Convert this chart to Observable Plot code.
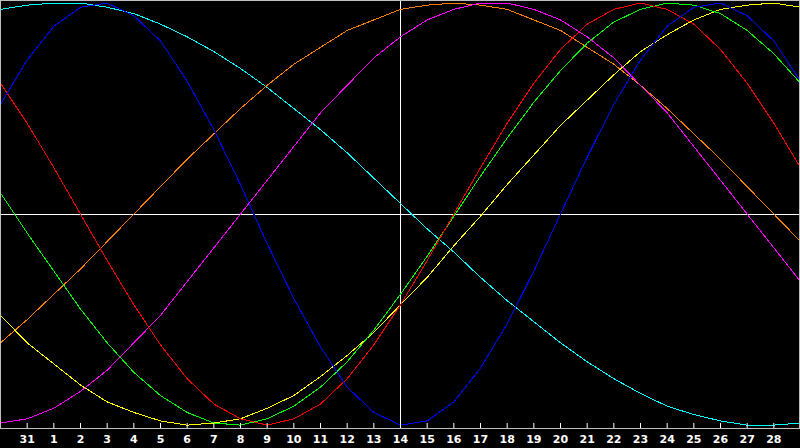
<!DOCTYPE html>
<html><head><meta charset="utf-8">
<script src="https://cdn.jsdelivr.net/npm/d3@7"></script>
<script src="https://cdn.jsdelivr.net/npm/@observablehq/plot@0.6"></script>
<style>html,body{margin:0;padding:0;background:#000;overflow:hidden}</style>
</head><body><div id="chart"></div>
<script>
// Day labels under the ticks (index 1..29); index 0 = Jan 30, index 30 = Mar 1
const tickLabels = ["31","1","2","3","4","5","6","7","8","9","10","11","12","13","14","15","16","17","18","19","20","21","22","23","24","25","26","27","28"];
const todayIndex = 15; // day 14

// Cycle values (percent) read for each day, index 0..30
const physical     = [52,73,89,98,100,94,82,63,40,14,-14,-40,-63,-82,-94,-100,-98,-89,-73,-52,-27,0,27,52,73,89,98,100,94,82,63];
const emotional    = [62,43,22,0,-22,-43,-62,-78,-90,-97,-100,-97,-90,-78,-62,-43,-22,0,22,43,62,78,90,97,100,97,90,78,62,43,22];
const intellectual = [10,-9,-27,-45,-61,-75,-86,-94,-99,-100,-97,-91,-82,-70,-55,-38,-20,-1,18,36,53,68,81,91,97,100,99,95,87,76,62];
const aesthetic    = [-48,-61,-71,-81,-89,-94,-98,-100,-99,-97,-92,-86,-77,-67,-56,-43,-30,-15,-1,14,28,42,54,66,77,85,92,97,99,100,98];
const awareness    = [-61,-50,-38,-26,-13,0,13,26,38,50,61,71,79,87,92,97,99,100,99,97,92,87,79,71,61,50,38,26,13,0,-13];
const intuitive    = [-99,-97,-92,-84,-74,-61,-48,-32,-16,0,16,32,48,61,74,84,92,97,100,100,97,92,84,74,61,48,32,16,0,-16,-32];
const spiritual    = [97,99,100,100,98,95,90,84,77,69,60,50,40,29,17,5,-7,-18,-30,-41,-51,-61,-70,-78,-85,-91,-95,-98,-100,-100,-99];

const seriesNames  = ["spiritual","awareness","intuitive","aesthetic","intellectual","emotional","physical"];
const seriesValues = [spiritual, awareness, intuitive, aesthetic, intellectual, emotional, physical];
const seriesColors = ["#00ffff","#ff8000","#ff00ff","#ffff00","#00ff00","#ff0000","#0000ff"];

const rows = seriesNames.flatMap((name, s) => seriesValues[s].map((v, i) => ({name, i, v})));
const tickIndex = tickLabels.map((_, k) => k + 1);

const chart = Plot.plot({
  width: 800, height: 448,
  marginTop: 0, marginRight: 0, marginBottom: 20, marginLeft: 0,
  style: {background: "#000", color: "#fff", fontFamily: "'DejaVu Sans', sans-serif", fontSize: "11px", fontWeight: "bold"},
  x: {domain: [0, 30], axis: null, label: null},
  y: {domain: [-101.6, 101.2], axis: null, label: null},
  color: {domain: seriesNames, range: seriesColors},
  marks: [
    Plot.ruleX([todayIndex], {x: d => d, stroke: "#fff", shapeRendering: "crispEdges"}),
    Plot.ruleY([0], {y: d => d, stroke: "#fff", dy: 0.6, shapeRendering: "crispEdges"}),
    Plot.line(rows, {x: "i", y: "v", z: "name", stroke: "name", strokeWidth: 1, shapeRendering: "crispEdges"}),
    Plot.frame({stroke: "#c0c0c0", insetRight: 1, shapeRendering: "crispEdges"}),
    Plot.axisX(tickIndex, {tickSize: 5, dy: -5, tickFormat: () => "", stroke: "#fff", label: null}),
    Plot.axisX(tickIndex, {tickSize: 0, tickPadding: 7, tickFormat: i => tickLabels[i - 1], fill: "#fff", label: null})
  ]
});
document.getElementById("chart").appendChild(chart);
</script></body></html>
